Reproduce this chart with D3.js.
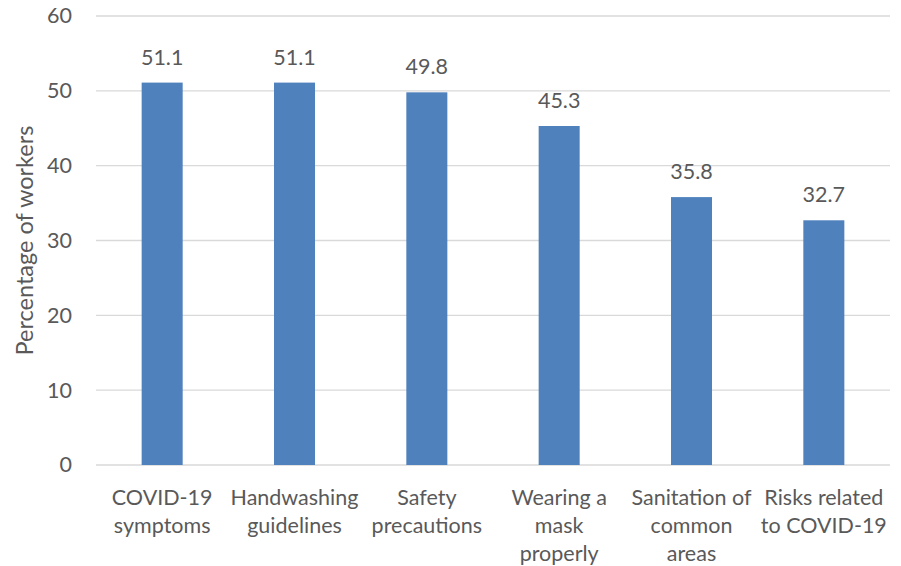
<!DOCTYPE html>
<html>
<head>
<meta charset="utf-8">
<script src="https://cdn.jsdelivr.net/npm/d3@7"></script>
<style>
  html, body { margin: 0; padding: 0; background: #fff; }
  svg { display: block; }
  text { font-family: Lato, "Open Sans", sans-serif; fill: #595959; }
</style>
</head>
<body>
<div id="chart"></div>
<script>
// Topics covered in worker training
const categories = [
  "COVID-19 symptoms",
  "Handwashing guidelines",
  "Safety precautions",
  "Wearing a mask properly",
  "Sanitation of common areas",
  "Risks related to COVID-19"
];
// Axis label lines for each category
const categoryLines = [
  ["COVID-19", "symptoms"],
  ["Handwashing", "guidelines"],
  ["Safety", "precautions"],
  ["Wearing a", "mask", "properly"],
  ["Sanitation of", "common", "areas"],
  ["Risks related", "to COVID-19"]
];
const values = [51.1, 51.1, 49.8, 45.3, 35.8, 32.7];
const yTicks = [0, 10, 20, 30, 40, 50, 60];
const yTitle = "Percentage of workers";

const W = 901, H = 566;
const margin = { left: 96, right: 11, top: 16, bottom: 101 };
const FS = "21.5px";

const svg = d3.select("#chart").append("svg")
  .attr("width", W).attr("height", H);

const x = d3.scaleBand()
  .domain(categories)
  .range([margin.left, W - margin.right])
  .paddingInner(0.69)
  .paddingOuter(0.345);

const y = d3.scaleLinear()
  .domain([0, 60])
  .range([H - margin.bottom, margin.top]);

// Horizontal gridlines
svg.append("g").selectAll("line")
  .data(yTicks)
  .join("line")
  .attr("x1", margin.left).attr("x2", W - margin.right)
  .attr("y1", d => y(d)).attr("y2", d => y(d))
  .attr("stroke", "#d9d9d9").attr("stroke-width", 1.3);

// Y axis tick labels
const yAxis = d3.axisLeft(y).tickValues(yTicks).tickSize(0).tickPadding(24);
const gy = svg.append("g")
  .attr("transform", `translate(${margin.left},0)`)
  .call(yAxis);
gy.select(".domain").remove();
gy.selectAll("text")
  .style("font-size", FS)
  .style("font-family", "Lato, 'Open Sans', sans-serif")
  .attr("fill", "#595959");

// Bars
svg.append("g").selectAll("rect")
  .data(values)
  .join("rect")
  .attr("x", (d, i) => x(categories[i]))
  .attr("width", x.bandwidth())
  .attr("y", d => y(d))
  .attr("height", d => y(0) - y(d))
  .attr("fill", "#4f81bd");

// Value labels above bars
svg.append("g").selectAll("text")
  .data(values)
  .join("text")
  .attr("x", (d, i) => x(categories[i]) + x.bandwidth() / 2)
  .attr("y", d => y(d) - 18)
  .attr("text-anchor", "middle")
  .style("font-size", FS)
  .text(d => d.toFixed(1));

// Category labels below the baseline
const xl = svg.append("g");
categories.forEach((c, i) => {
  const t = xl.append("text")
    .attr("x", x(c) + x.bandwidth() / 2)
    .attr("y", y(0) + 40)
    .attr("text-anchor", "middle")
    .style("font-size", FS);
  categoryLines[i].forEach((line, j) => {
    t.append("tspan")
      .attr("x", x(c) + x.bandwidth() / 2)
      .attr("dy", j === 0 ? 0 : 28)
      .text(line);
  });
});

// Y axis title
svg.append("text")
  .attr("transform", `translate(33, ${y(30)}) rotate(-90)`)
  .attr("text-anchor", "middle")
  .style("font-size", "23.5px")
  .text(yTitle);
</script>
</body>
</html>
